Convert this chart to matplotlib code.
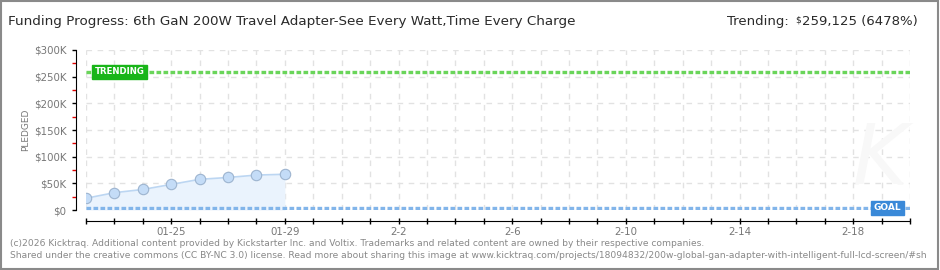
import matplotlib
matplotlib.use("Agg")
import matplotlib.pyplot as plt
import matplotlib.dates as mdates
from matplotlib.patches import Rectangle
from matplotlib.ticker import MultipleLocator, FuncFormatter
import datetime as dt

# ---- data ----
dates = ["2026-01-22", "2026-01-23", "2026-01-24", "2026-01-25",
         "2026-01-26", "2026-01-27", "2026-01-28", "2026-01-29"]
pledged = [22000, 32500, 38500, 48000, 57500, 61000, 65500, 67000]
goal = 4000
trending = 259125
trend_pct = 6478
x_start = "2026-01-22"
x_end = "2026-02-20"
title = "Funding Progress: 6th GaN 200W Travel Adapter-See Every Watt,Time Every Charge"
footer1 = ("(c)2026 Kicktraq. Additional content provided by Kickstarter Inc. and Voltix. "
           "Trademarks and related content are owned by their respective companies.")
footer2 = ("Shared under the creative commons (CC BY-NC 3.0) license. Read more about sharing this image at "
           "www.kicktraq.com/projects/18094832/200w-global-gan-adapter-with-intelligent-full-lcd-screen/#sh")
x_labels = {"2026-01-25": "01-25", "2026-01-29": "01-29", "2026-02-02": "2-2",
            "2026-02-06": "2-6", "2026-02-10": "2-10", "2026-02-14": "2-14",
            "2026-02-18": "2-18"}

plt.rcParams['font.family'] = ['DejaVu Sans']

W, H = 940, 270
fig = plt.figure(figsize=(W / 100, H / 100), dpi=100)
fig.patch.set_facecolor("white")

def fx(px):
    return px / W

def fy(py):
    return 1 - py / H

ax = fig.add_axes([fx(86), fy(210), fx(910) - fx(86), fy(50) - fy(210)])
ax.set_facecolor("white")

xd = [mdates.date2num(dt.datetime.fromisoformat(d)) for d in dates]
x0 = mdates.date2num(dt.datetime.fromisoformat(x_start))
x1 = mdates.date2num(dt.datetime.fromisoformat(x_end))
ax.set_xlim(x0, x1)
ax.set_ylim(0, 300000)

# grid
ax.xaxis.set_major_locator(mdates.DayLocator())
ax.yaxis.set_major_locator(MultipleLocator(50000))
ax.yaxis.set_minor_locator(MultipleLocator(25000))
ax.grid(True, which="major", color="#e2e2e2", linestyle=(0, (4, 4)), linewidth=1.0)
ax.set_axisbelow(True)

# data
ax.fill_between(xd, pledged, 0, color="#eaf3fd", zorder=2, linewidth=0)
ax.plot(xd, pledged, color="#bcd6f2", linewidth=1.2, zorder=3)
ax.plot(xd, pledged, linestyle="none", marker="o", markersize=7.5,
        markerfacecolor="#c4dcf7", markeredgecolor="#9db4cf", markeredgewidth=0.8, zorder=4)

# goal and trending lines
ax.axhline(goal, color="#82b5ea", linewidth=2.4, linestyle=(0, (1.4, 0.7)), zorder=3)
ax.axhline(trending, color="#6ad55a", linewidth=2.4, linestyle=(0, (1.4, 0.7)), zorder=3)

# labels on lines
ax.text(x0 + 0.3, trending, "TRENDING", color="white", fontsize=6.2, fontweight="bold",
        ha="left", va="center", zorder=6,
        bbox=dict(boxstyle="square,pad=0.3", facecolor="#19b519", edgecolor="#19b519"))
ax.text(x1 - 0.3, goal, "GOAL", color="white", fontsize=6.5, fontweight="bold",
        ha="right", va="center", zorder=6,
        bbox=dict(boxstyle="square,pad=0.3", facecolor="#3a89d8", edgecolor="#3a89d8"))

# spines
for s in ["top", "right"]:
    ax.spines[s].set_visible(False)
ax.spines["left"].set_position(("outward", 7.2))
ax.spines["bottom"].set_position(("outward", 8.0))
ax.spines["left"].set_color("black")
ax.spines["bottom"].set_color("black")

# ticks
def yfmt(v, pos):
    return "$0" if v == 0 else "${:d}K".format(int(v / 1000))
ax.yaxis.set_major_formatter(FuncFormatter(yfmt))
ax.tick_params(axis="y", which="major", direction="out", length=3, width=1, color="black",
               labelsize=7.4, labelcolor="#777777", pad=4)
ax.tick_params(axis="y", which="minor", direction="out", length=3, width=1, color="#e00000")

def xfmt(v, pos):
    d = mdates.num2date(v).strftime("%Y-%m-%d")
    return x_labels.get(d, "")
ax.xaxis.set_major_formatter(FuncFormatter(xfmt))
ax.tick_params(axis="x", which="major", direction="inout", length=5, width=1, color="black",
               labelsize=7.4, labelcolor="#777777", pad=2)

ax.set_ylabel("PLEDGED", fontsize=6.5, color="#777777")
ax.yaxis.set_label_coords(-0.068, 0.5)

# watermark
fig.text(fx(880), fy(160), "K", fontsize=60, color="#f8f8f8", ha="center", va="center",
         style="italic", zorder=0)

# title & trending
fig.text(fx(8), fy(22), title, fontsize=9.7, color="#2a2a2a", ha="left", va="center")
t1 = fig.text(fx(918), fy(22), "259,125 ({}%)".format(trend_pct),
              fontsize=9.5, color="#2a2a2a", ha="right", va="center")
fig.add_artist(plt.Annotation("$", xy=(0, 1), xycoords=t1, xytext=(-1, 0),
                              textcoords="offset points", ha="right", va="top",
                              fontsize=6.5, color="#2a2a2a"))
fig.add_artist(plt.Annotation("Trending:", xy=(0, 0.5), xycoords=t1, xytext=(-10, 0),
                              textcoords="offset points", ha="right", va="center",
                              fontsize=9.5, color="#2a2a2a"))

# footer
fig.text(fx(10), fy(243), footer1, fontsize=6.6, color="#888888", ha="left", va="center")
fig.text(fx(10), fy(256), footer2, fontsize=6.6, color="#888888", ha="left", va="center")

# border
fig.add_artist(Rectangle((0.001, 0.002), 0.997, 0.995, transform=fig.transFigure,
                         fill=False, edgecolor="#8a8a8a", linewidth=1.5))

fig.savefig("out.png", dpi=100, facecolor="white")
